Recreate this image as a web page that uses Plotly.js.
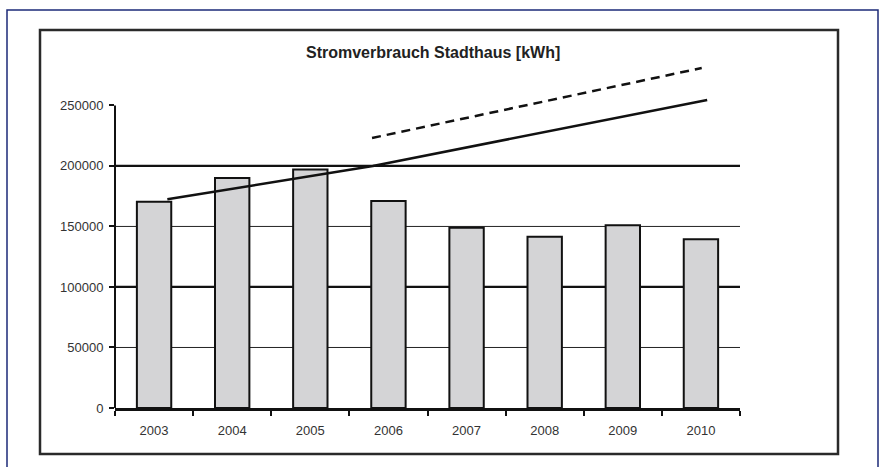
<!DOCTYPE html>
<html>
<head>
<meta charset="utf-8">
<script src="https://cdn.plot.ly/plotly-3.0.1.min.js"></script>
<style>html,body{margin:0;padding:0;background:#fff;}#chart{width:882px;height:467px;}</style>
</head>
<body>
<div id="chart"></div>
<script>
// Data
const years = ['2003', '2004', '2005', '2006', '2007', '2008', '2009', '2010'];
const consumption = [170500, 190000, 197000, 171000, 149000, 141500, 151000, 139500];
// Hand-drawn trend line (solid) and forecast line (dashed), positions in category units (0 = 2003)
const trendX = [0.17, 2.8, 7.08];
const trendY = [172400, 200000, 254500];
const forecastX = [2.79, 7.01];
const forecastY = [223100, 280900];
const yTicks = [0, 50000, 100000, 150000, 200000, 250000];
const majorGrid = [100000, 200000];
const minorGrid = [50000, 150000];
const yTop = 290000;

const font = 'Liberation Sans, Arial, sans-serif';

const traces = [
  {
    type: 'bar', x: years, y: consumption, width: 0.44,
    marker: {color: '#d4d4d6', line: {color: '#111', width: 2}},
    hoverinfo: 'x+y', showlegend: false
  },
  {
    type: 'scatter', mode: 'lines', x: trendX, y: trendY, xaxis: 'x2',
    line: {color: '#111', width: 2.5}, showlegend: false
  },
  {
    type: 'scatter', mode: 'lines', x: forecastX, y: forecastY, xaxis: 'x2',
    line: {color: '#111', width: 2.5, dash: '9px,6px'}, showlegend: false
  }
];

const shapes = [];
majorGrid.forEach(v => shapes.push({type: 'line', xref: 'paper', yref: 'y', x0: 0, x1: 1, y0: v, y1: v, layer: 'below', line: {color: '#111', width: 2.2}}));
minorGrid.forEach(v => shapes.push({type: 'line', xref: 'paper', yref: 'y', x0: 0, x1: 1, y0: v, y1: v, layer: 'below', line: {color: '#222', width: 1}}));
// y axis line (only up to the last tick)
shapes.push({type: 'line', xref: 'paper', yref: 'y', x0: 0, x1: 0, y0: 0, y1: yTicks[yTicks.length - 1], line: {color: '#111', width: 2}});
// inner chart frame
shapes.push({type: 'rect', xref: 'paper', yref: 'paper', x0: -0.12, x1: 1.1568, y0: -0.131, y1: 1.0769, line: {color: '#2a2a2a', width: 2.5}});
// outer blue frame
shapes.push({type: 'rect', xref: 'paper', yref: 'paper', x0: -0.1728, x1: 1.2208, y0: -0.2, y1: 1.1339, line: {color: '#1c2a78', width: 1.5}});

const layout = {
  width: 882, height: 467,
  margin: {l: 115, r: 142, t: 57, b: 59},
  paper_bgcolor: '#fff', plot_bgcolor: 'rgba(0,0,0,0)',
  showlegend: false,
  title: {text: '<b>Stromverbrauch Stadthaus [kWh]</b>', font: {family: font, size: 16, color: '#222'},
          x: 0.509, xref: 'paper', y: 1 - 52 / 467, yref: 'container', xanchor: 'center', yanchor: 'middle'},
  xaxis: {
    type: 'category', tickson: 'boundaries', ticks: 'outside', ticklen: 5, tickwidth: 2, tickcolor: '#111',
    showline: true, linecolor: '#111', linewidth: 2.5, showgrid: false, zeroline: false,
    ticklabelstandoff: 9,
    tickfont: {family: font, size: 13, color: '#333'}, fixedrange: true
  },
  xaxis2: {overlaying: 'x', range: [-0.5, 7.5], visible: false, fixedrange: true},
  yaxis: {
    range: [0, yTop], tickvals: yTicks, ticktext: yTicks.map(String), ticks: 'outside', ticklen: 5, tickwidth: 2, tickcolor: '#111',
    showline: false, showgrid: false, zeroline: false,
    ticklabelstandoff: 3,
    tickfont: {family: font, size: 13, color: '#333'}, fixedrange: true
  },
  shapes: shapes,
  font: {family: font}
};

Plotly.newPlot('chart', traces, layout, {displayModeBar: false, staticPlot: true});
</script>
</body>
</html>
